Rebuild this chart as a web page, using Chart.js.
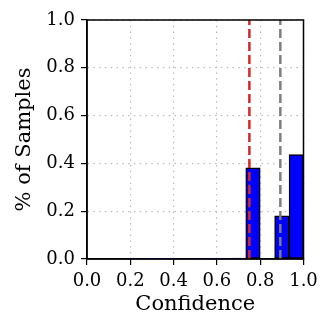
<!DOCTYPE html>
<html>
<head>
<meta charset="utf-8">
<script src="https://cdn.jsdelivr.net/npm/chart.js@4/dist/chart.umd.min.js"></script>
<style>
    html, body { margin: 0; padding: 0; background: #fff; }
    #wrap { width: 333px; height: 333px; }
</style>
</head>
<body>
<div id="wrap"><canvas id="histChart"></canvas></div>
<script>

/* ---------------- DATA ---------------- */

const binEdges = [0, 1/15, 2/15, 3/15, 4/15, 5/15, 6/15, 7/15, 8/15, 9/15, 10/15, 11/15, 12/15, 13/15, 14/15, 1];
const binShares = [0, 0, 0, 0.002, 0.001, 0.001, 0.002, 0.002, 0.001, 0.002, 0.004, 0.381, 0, 0.181, 0.437];
const redLineX = [0.75, 0.75];
const grayLineX = [0.893, 0.893];
const lineY = [0, 1];
const tickValues = [0, 0.2, 0.4, 0.6, 0.8, 1.0];

const FONT = "'DejaVu Serif', serif";

/* ---------------- BUILD ---------------- */

const barPoints = binShares.map((v, i) => ({
    x: (binEdges[i] + binEdges[i + 1]) / 2,
    y: v
}));

const redPoints = redLineX.map((x, i) => ({ x: x, y: lineY[i] }));
const grayPoints = grayLineX.map((x, i) => ({ x: x, y: lineY[i] }));

const framePlugin = {
    id: 'frame',
    afterDatasetsDraw(chart) {
        const { ctx, chartArea } = chart;
        ctx.save();
        ctx.strokeStyle = '#000';
        ctx.lineWidth = 1.5;
        ctx.strokeRect(chartArea.left, chartArea.top, chartArea.right - chartArea.left, chartArea.bottom - chartArea.top);
        ctx.restore();
    }
};

function axisOpts(title, pad) {
    return {
        type: 'linear',
        min: 0,
        max: 1,
        offset: false,
        afterBuildTicks: scale => {
            scale.ticks = tickValues.map(v => ({ value: v }));
        },
        ticks: {
            color: '#000',
            font: { family: FONT, size: 18 },
            padding: 6,
            callback: v => v.toFixed(1)
        },
        grid: {
            offset: false,
            color: '#bdbdbd',
            lineWidth: 1.2,
            tickColor: '#000',
            tickLength: 6,
            tickWidth: 1.2,
            tickBorderDash: []
        },
        border: {
            display: true,
            color: '#000',
            width: 1.5,
            dash: [1.5, 4.3]
        },
        title: {
            display: true,
            text: title,
            color: '#000',
            font: { family: FONT, size: 21 },
            padding: pad
        }
    };
}

const xAxis = axisOpts('Confidence', { top: 0, bottom: 16 });
xAxis.afterFit = scale => { scale.height = 74; };

const yAxis = axisOpts('% of Samples', { top: 12, bottom: 0 });
yAxis.afterFit = scale => { scale.width = 87; };

new Chart(document.getElementById('histChart'), {
    type: 'bar',
    data: {
        datasets: [
            {
                type: 'line',
                data: redPoints,
                borderColor: '#d62728',
                borderWidth: 2.5,
                borderDash: [9, 4],
                pointRadius: 0,
                order: 0
            },
            {
                type: 'line',
                data: grayPoints,
                borderColor: '#7f7f7f',
                borderWidth: 2.5,
                borderDash: [9, 4],
                pointRadius: 0,
                order: 0
            },
            {
                type: 'bar',
                data: barPoints,
                backgroundColor: '#0000ff',
                borderColor: '#000',
                borderWidth: 1.5,
                borderSkipped: false,
                barPercentage: 1,
                categoryPercentage: 1,
                order: 1
            }
        ]
    },
    options: {
        responsive: true,
        maintainAspectRatio: false,
        animation: false,
        layout: { padding: { left: 0, top: 20, right: 29.5, bottom: 0 } },
        plugins: {
            legend: { display: false },
            tooltip: { enabled: false }
        },
        scales: {
            x: xAxis,
            y: yAxis
        }
    },
    plugins: [framePlugin]
});

</script>
</body>
</html>
